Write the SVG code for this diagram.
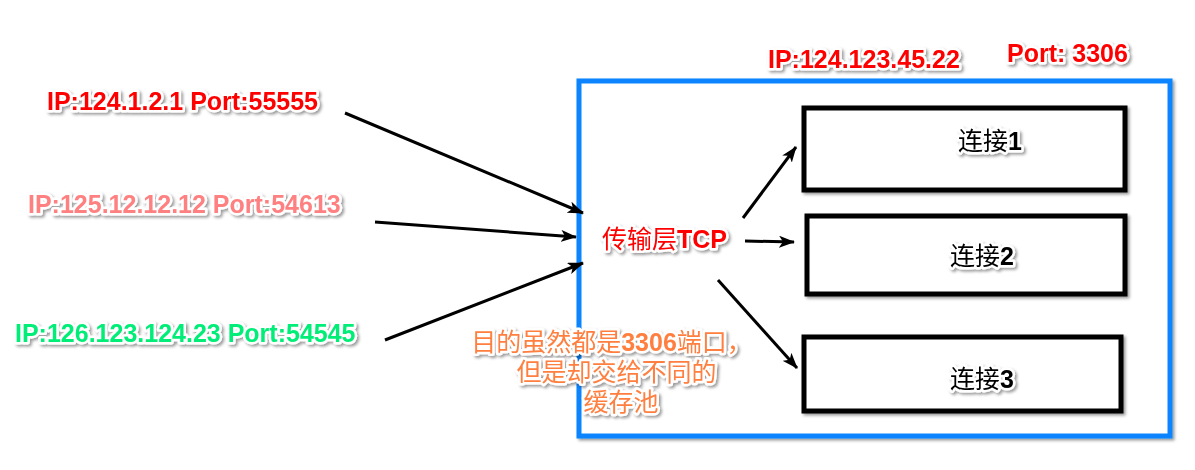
<svg xmlns="http://www.w3.org/2000/svg" width="1195" height="470" viewBox="0 0 1195 470">
<defs>
<filter id="sh" x="-10%" y="-20%" width="120%" height="150%">
<feDropShadow dx="2" dy="2" stdDeviation="1.5" flood-color="#000" flood-opacity="0.4"/>
</filter>
<marker id="ah" viewBox="0 0 16 12" refX="15" refY="6" markerWidth="16" markerHeight="12" markerUnits="userSpaceOnUse" orient="auto">
<path d="M0,0 L16,6 L0,12 L4,6 Z" fill="#000"/>
</marker>
<style>
.t{font-family:"Liberation Sans","Noto Sans CJK SC",sans-serif;font-weight:bold;font-size:25px;paint-order:stroke;stroke:#fff;stroke-width:5px;stroke-linejoin:round;filter:url(#sh)}
.c{font-family:"Noto Sans CJK SC",sans-serif;font-weight:normal}
.box{fill:#fff;stroke:#000;stroke-width:5;filter:url(#sh)}
.ln{stroke:#000;stroke-width:3;fill:none;marker-end:url(#ah)}
</style>
</defs>
<rect width="1195" height="470" fill="#fff"/>
<g id="server">
<rect x="579" y="81" width="591" height="355" fill="#fff" stroke="#0A84FF" stroke-width="5" filter="url(#sh)"/>
<text class="t" x="768" y="68" fill="#FF0000">IP:124.123.45.22</text>
<text class="t" x="1007" y="62" fill="#FF0000">Port: 3306</text>
</g>
<g id="conn1">
<rect class="box" x="804" y="108" width="321" height="82"/>
<text class="t" x="958" y="150" fill="#000" font-size="27"><tspan class="c">连接</tspan>1</text>
</g>
<g id="conn2">
<rect class="box" x="807" y="216" width="318" height="78"/>
<text class="t" x="950" y="265" fill="#000" font-size="27"><tspan class="c">连接</tspan>2</text>
</g>
<g id="conn3">
<rect class="box" x="804" y="337" width="317" height="74"/>
<text class="t" x="950" y="388" fill="#000" font-size="27"><tspan class="c">连接</tspan>3</text>
</g>
<g id="tcp">
<text class="t" x="602" y="248" fill="#FF0000" font-size="27"><tspan class="c">传输层</tspan>TCP</text>
</g>
<g id="src1"><text class="t" x="47" y="110" fill="#FF0000">IP:124.1.2.1 Port:55555</text></g>
<g id="src2"><text class="t" x="28" y="213" fill="#FF8080">IP:125.12.12.12 Port:54613</text></g>
<g id="src3"><text class="t" x="15" y="342" fill="#00EE77">IP:126.123.124.23 Port:54545</text></g>
<g id="note">
<text class="t" fill="#FF7F3F" font-size="26" text-anchor="middle">
<tspan x="615" y="351"><tspan class="c">目的虽然都是</tspan>3306<tspan class="c">端口，</tspan></tspan>
<tspan class="c" x="620" y="381">但是却交给不同的</tspan>
<tspan class="c" x="621" y="411">缓存池</tspan>
</text>
</g>
<g id="connectors">
<line class="ln" x1="345" y1="113" x2="583" y2="213"/>
<line class="ln" x1="375" y1="222" x2="576" y2="237"/>
<line class="ln" x1="385" y1="340" x2="583" y2="263"/>
<line class="ln" x1="743" y1="218" x2="796" y2="147"/>
<line class="ln" x1="745" y1="241" x2="794" y2="242"/>
<line class="ln" x1="718" y1="280" x2="797" y2="368"/>
</g>
</svg>
